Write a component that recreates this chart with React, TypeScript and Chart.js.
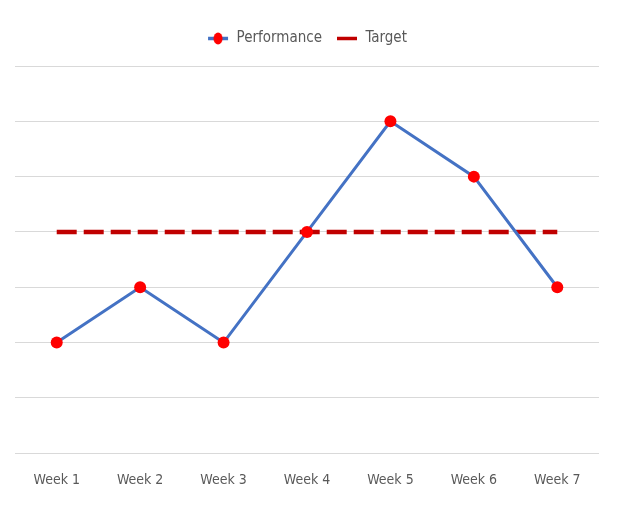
import React, { useEffect, useRef } from "react";
import { Chart, registerables } from "chart.js";

Chart.register(...registerables);

const categories = ["Week 1", "Week 2", "Week 3", "Week 4", "Week 5", "Week 6", "Week 7"];
const performance = [2, 3, 2, 4, 6, 5, 3];
const target = [4, 4, 4, 4, 4, 4, 4];
const seriesNames = ["Performance", "Target"];

const BLUE = "#4472C4";
const RED = "#FF0000";
const DARKRED = "#C00000";
const TEXT = "#595959";
const FONT = "'DejaVu Sans Condensed', Lato, sans-serif";

function makeMarker(kind: "perf" | "target"): HTMLCanvasElement {
  const c = document.createElement("canvas");
  c.width = 22;
  c.height = 13;
  const ctx = c.getContext("2d")!;
  ctx.lineWidth = 3.5;
  ctx.strokeStyle = kind === "perf" ? BLUE : DARKRED;
  ctx.beginPath();
  ctx.moveTo(1, 6.5);
  ctx.lineTo(21, 6.5);
  ctx.stroke();
  if (kind === "perf") {
    ctx.fillStyle = RED;
    ctx.beginPath();
    ctx.ellipse(11, 6.5, 4.5, 6, 0, 0, Math.PI * 2);
    ctx.fill();
  }
  return c;
}

const legendSpacer = {
  id: "legendSpacer",
  beforeInit(chart: any) {
    const orig = chart.legend.fit;
    chart.legend.fit = function () {
      orig.bind(chart.legend)();
      this.height += 10;
    };
  },
};

export default function App() {
  const ref = useRef<HTMLCanvasElement>(null);
  useEffect(() => {
    if (!ref.current) return;
    const perfMarker = makeMarker("perf");
    const targetMarker = makeMarker("target");
    const chart = new Chart(ref.current, {
      type: "line",
      data: {
        labels: categories,
        datasets: [
          {
            label: seriesNames[0],
            data: performance,
            borderColor: BLUE,
            backgroundColor: RED,
            borderWidth: 3,
            pointRadius: 6,
            pointBackgroundColor: RED,
            pointBorderColor: RED,
            pointBorderWidth: 0,
            tension: 0,
            order: 0,
          },
          {
            label: seriesNames[1],
            data: target,
            borderColor: DARKRED,
            backgroundColor: DARKRED,
            borderWidth: 4.5,
            borderDash: [20, 7],
            pointRadius: 0,
            tension: 0,
            order: 1,
          },
        ],
      },
      options: {
        animation: false,
        responsive: true,
        maintainAspectRatio: false,
        layout: { padding: { left: 15, right: 18, top: 17, bottom: 9 } },
        plugins: {
          tooltip: { enabled: false },
          legend: {
            position: "top",
            labels: {
              usePointStyle: true,
              pointStyleWidth: 22,
              color: TEXT,
              font: { family: FONT, size: 15 },
              padding: 14,
              generateLabels: (chart: any) => {
                const items = Chart.defaults.plugins.legend.labels.generateLabels(chart);
                items.forEach((it: any, i: number) => {
                  it.pointStyle = i === 0 ? perfMarker : targetMarker;
                  it.lineDash = [];
                });
                return items;
              },
            },
          },
        },
        scales: {
          x: {
            offset: true,
            grid: { display: false },
            border: { display: false },
            ticks: { color: TEXT, font: { family: FONT, size: 14 }, padding: 11 },
          },
          y: {
            min: 0,
            max: 7,
            ticks: { display: false, stepSize: 1 },
            grid: { color: "#D9D9D9", lineWidth: 1, drawTicks: false },
            border: { display: false },
          },
        },
      },
      plugins: [legendSpacer],
    });
    return () => chart.destroy();
  }, []);
  return (
    <div style={{ position: "fixed", left: 0, top: 0, width: 617, height: 509, background: "#fff" }}>
      <canvas ref={ref} />
    </div>
  );
}
